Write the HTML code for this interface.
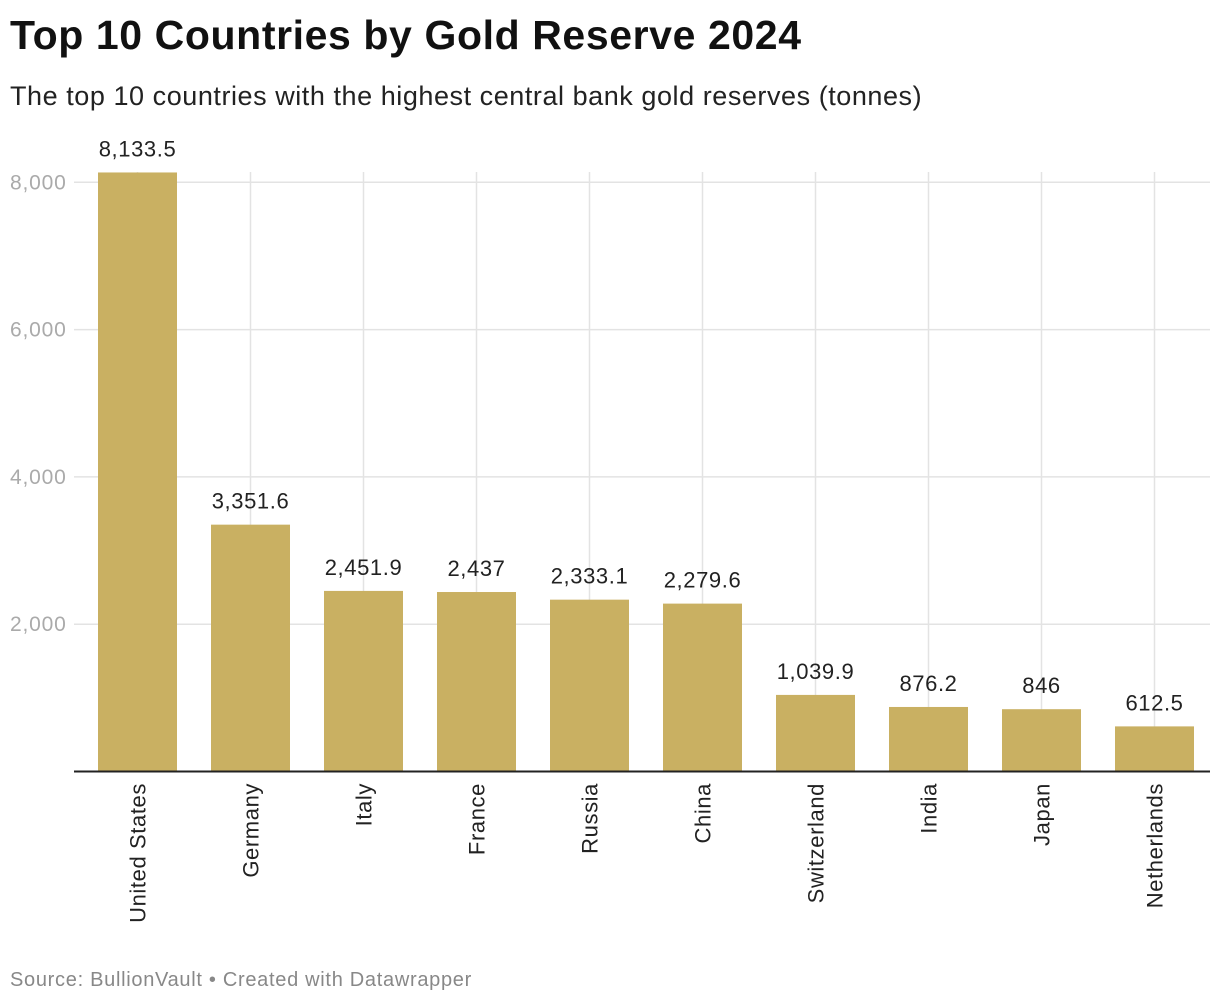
<!DOCTYPE html>
<html><head><meta charset="utf-8"><style>
body{margin:0;background:#fff;font-family:"Liberation Sans",Arial,sans-serif;}
#wrap{position:relative;width:1220px;height:1008px;overflow:hidden}
h1{position:absolute;left:10px;top:12px;margin:0;font-size:41px;font-weight:bold;color:#111;letter-spacing:0.6px}
.sub{position:absolute;left:10px;top:81px;font-size:27px;color:#222;letter-spacing:0.55px}
.src{position:absolute;left:10px;top:969px;font-size:20px;color:#888;letter-spacing:0.7px}
</style></head><body><div id="wrap">
<h1>Top 10 Countries by Gold Reserve 2024</h1>
<div class="sub">The top 10 countries with the highest central bank gold reserves (tonnes)</div>
<svg id="chart" width="1220" height="1008" style="position:absolute;left:0;top:0"></svg>
<div class="src">Source: BullionVault • Created with Datawrapper</div>
</div>
<script>
const categories=["United States","Germany","Italy","France","Russia","China","Switzerland","India","Japan","Netherlands"];
const values=[8133.5,3351.6,2451.9,2437,2333.1,2279.6,1039.9,876.2,846,612.5];
const valueLabels=["8,133.5","3,351.6","2,451.9","2,437","2,333.1","2,279.6","1,039.9","876.2","846","612.5"];
const yTicks=[2000,4000,6000,8000];
const yTickLabels=["2,000","4,000","6,000","8,000"];
const svg=document.getElementById('chart');
const NS="http://www.w3.org/2000/svg";
const y0=771.5,pxPer=147.3/2000;
function y(v){return y0-v*pxPer;}
function xc(i){return 137.5+i*113;}
function mk(t,a){const e=document.createElementNS(NS,t);for(const k in a)e.setAttribute(k,a[k]);svg.appendChild(e);return e;}
yTicks.forEach((t,i)=>{
 const l=mk('line',{x1:74,x2:1210,y1:y(t),y2:y(t),stroke:'#e3e3e3','stroke-width':1.5});
 
 
 const tx=mk('text',{x:10,y:y(t)+7,'font-size':21,'letter-spacing':0.8,fill:'#aaa','font-family':'Liberation Sans, sans-serif'});
 tx.textContent=yTickLabels[i];
 
 
});
categories.forEach((c,i)=>{
 const g=mk('line',{x1:xc(i),x2:xc(i),y1:172,y2:y0,stroke:'#e3e3e3','stroke-width':1.5});
 
 
});
categories.forEach((c,i)=>{
 const b=mk('rect',{x:xc(i)-39.5,y:y(values[i]),width:79,height:y0-y(values[i]),fill:'#c9b062'});
 
 
 const v=mk('text',{x:xc(i),y:y(values[i])-16,'text-anchor':'middle','font-size':22,'letter-spacing':0.6,fill:'#222','font-family':'Liberation Sans, sans-serif'});
 v.textContent=valueLabels[i];
 
 
 const cl=mk('text',{x:0,y:0,'text-anchor':'end','font-size':22,'letter-spacing':0.6,fill:'#222','font-family':'Liberation Sans, sans-serif',transform:`translate(${xc(i)+8},783) rotate(-90)`});
 cl.textContent=c;
 
 
});
const ax=mk('line',{x1:74,x2:1210,y1:y0,y2:y0,stroke:'#222','stroke-width':2});


</script></body></html>
